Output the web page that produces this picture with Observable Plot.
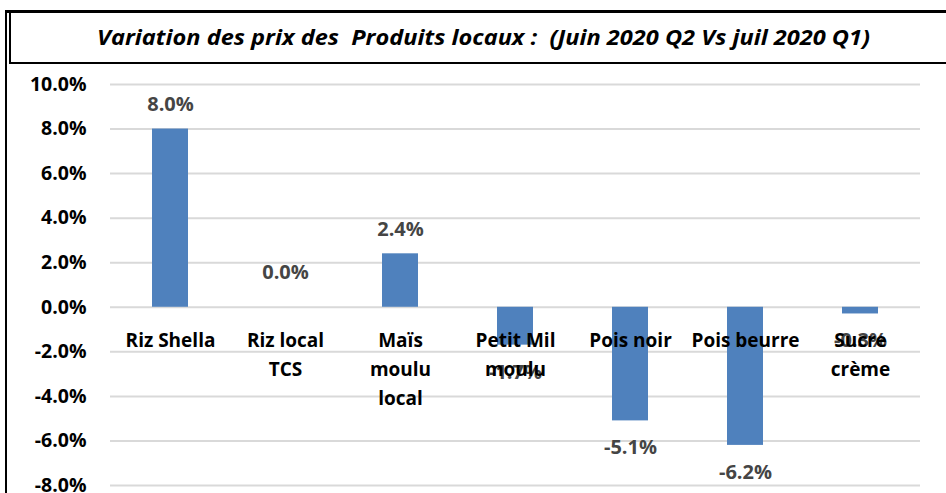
<!DOCTYPE html>
<html>
<head>
<meta charset="utf-8">
<script src="https://cdn.jsdelivr.net/npm/d3@7"></script>
<script src="https://cdn.jsdelivr.net/npm/@observablehq/plot@0.6"></script>
<style>
  html, body { margin: 0; padding: 0; background: #fff; width: 946px; height: 493px; overflow: hidden; }
  #outer { position: absolute; left: 5px; top: 10px; width: 960px; height: 500px;
           border-left: 2px solid #000; border-top: 3px solid #000; }
  #title { position: absolute; left: 9px; top: 11px; width: 960px; height: 49px;
           border: 2px solid #000; box-sizing: content-box; }
  #title span { position: absolute; left: 86px; top: 8px; white-space: pre;
           font-family: "Open Sans", sans-serif; transform-origin: 0 0;
           font-style: italic; font-weight: bold; font-size: 22px; line-height: 30px; }
  #chart { position: absolute; left: 0; top: 64px; }
</style>
</head>
<body>
<div id="outer"></div>
<div id="title"><span id="tt">Variation des prix des  Produits locaux :  (Juin 2020 Q2 Vs juil 2020 Q1)</span></div>
<div id="chart"></div>
<script>
const categories = ["Riz Shella", "Riz local\nTCS", "Maïs\nmoulu\nlocal", "Petit Mil\nmoulu", "Pois noir", "Pois beurre", "Sucre\ncrème"];
const values = [8.0, 0.0, 2.4, -1.7, -5.1, -6.2, -0.3];
const yTicks = [-8, -6, -4, -2, 0, 2, 4, 6, 8, 10];

const data = categories.map((c, i) => ({cat: c, v: values[i]}));
const fmt = d => d.toFixed(1) + "%";
const font = "'Open Sans', sans-serif";
const labelGray = "#454545";

const chart = Plot.plot({
  width: 946,
  height: 429,
  marginLeft: 110,
  marginRight: 26,
  marginTop: 20,
  marginBottom: 8,
  style: {fontFamily: font, background: "transparent"},
  x: {domain: categories, paddingInner: 0.69, paddingOuter: 0.345, axis: null},
  y: {domain: [-8, 10], ticks: yTicks, tickFormat: fmt, label: null},
  marks: [
    Plot.ruleY(yTicks, {stroke: "#d9d9d9", strokeWidth: 2}),
    Plot.axisY({ticks: yTicks, tickFormat: fmt, tickSize: 0, tickPadding: 24, fontSize: 19.5, fontWeight: "bold", fill: "#000", label: null}),
    Plot.barY(data, {x: "cat", y: "v", fill: "#4f81bd"}),
    Plot.text(data.filter(d => d.v > 0), {x: "cat", y: "v", text: d => fmt(d.v), dy: -24, fontSize: 20, fontWeight: "bold", fill: labelGray}),
    Plot.text(data.filter(d => d.v < 0), {x: "cat", y: "v", text: d => fmt(d.v), dy: 27, fontSize: 20, fontWeight: "bold", fill: labelGray}),
    Plot.text(data.filter(d => d.v === 0), {x: "cat", y: "v", text: d => fmt(d.v), dy: -35, fontSize: 20, fontWeight: "bold", fill: labelGray}),
    Plot.text(data, {x: "cat", y: () => 0, text: "cat", lineAnchor: "top", dy: 19, lineHeight: 1.53, fontSize: 19, fontWeight: "bold", fill: "#000"})
  ]
});
document.getElementById("chart").appendChild(chart);

// fit the condensed title to the reference width
const tt = document.getElementById("tt");
const w = tt.getBoundingClientRect().width;
tt.style.transform = `scaleX(${773 / w})`;
</script>
</body>
</html>
